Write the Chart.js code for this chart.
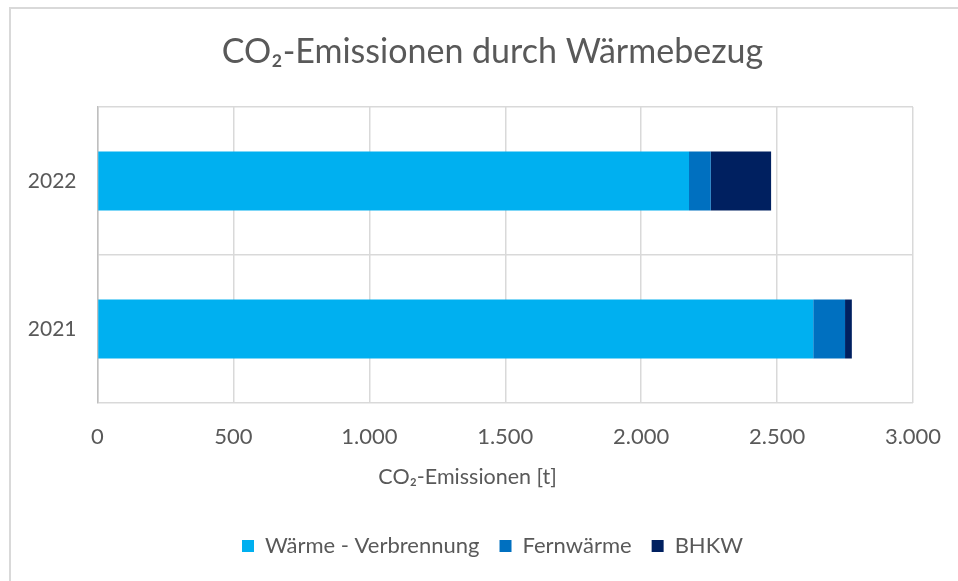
<!DOCTYPE html>
<html>
<head>
<meta charset="utf-8">
<script src="https://cdn.jsdelivr.net/npm/chart.js@4.4.1/dist/chart.umd.min.js"></script>
<style>
  body { margin: 0; background: #fff; }
  #wrap { position: relative; width: 958px; height: 581px; overflow: hidden; }
  #frame { position: absolute; left: 9px; top: 7px; width: 1000px; height: 600px;
           border-left: 2px solid #d9d9d9; border-top: 2px solid #d9d9d9; pointer-events: none; }
</style>
</head>
<body>
<div id="wrap">
  <canvas id="myChart" width="958" height="581"></canvas>
  <div id="frame"></div>
</div>
<script>
// Daten
const jahre = ['2022', '2021'];
const waermeVerbrennung = [2176, 2633];
const fernwaerme = [80, 117];
const bhkw = [222, 25];
const serienNamen = ['Wärme - Verbrennung', 'Fernwärme', 'BHKW'];
const farben = ['#00B0F0', '#0070C0', '#002060'];

const schrift = "Lato, 'Open Sans', sans-serif";
const grau = '#595959';

function tausender(v) {
  return String(v).replace(/\B(?=(\d{3})+(?!\d))/g, '.');
}

const ctx = document.getElementById('myChart').getContext('2d');
const chart = new Chart(ctx, {
  type: 'bar',
  data: {
    labels: jahre,
    datasets: [
      { label: serienNamen[0], data: waermeVerbrennung, backgroundColor: farben[0] },
      { label: serienNamen[1], data: fernwaerme, backgroundColor: farben[1] },
      { label: serienNamen[2], data: bhkw, backgroundColor: farben[2] }
    ]
  },
  options: {
    indexAxis: 'y',
    responsive: false,
    animation: false,
    devicePixelRatio: 1,
    layout: { padding: { left: 27, right: 0, top: 0, bottom: 14 } },
    datasets: { bar: { barPercentage: 0.4, categoryPercentage: 1, borderWidth: 0 } },
    scales: {
      x: {
        stacked: true,
        min: 0,
        max: 3000,
        ticks: {
          stepSize: 500,
          padding: 21,
          color: grau,
          font: { family: schrift, size: 22 },
          callback: v => tausender(v)
        },
        grid: { color: '#d9d9d9', lineWidth: 1.5, drawTicks: false },
        border: { display: false },
        title: {
          display: true,
          // Leerzeichen am Ende schieben den Titel etwas nach links (wie im Original)
          text: 'CO₂-Emissionen [t]\u2002\u2002\u2002\u2002\u2002\u2002\u2002',
          color: grau,
          padding: 25,
          font: { family: schrift, size: 21.5 }
        },
        afterFit: scale => {
          scale.height = 112;
          scale.paddingLeft = 0;
          scale.paddingRight = 0;
        }
      },
      y: {
        stacked: true,
        ticks: {
          padding: 21,
          color: grau,
          font: { family: schrift, size: 21 }
        },
        grid: { color: '#d9d9d9', lineWidth: 1.5, drawTicks: false },
        border: { color: '#bfbfbf', width: 1.5 },
        afterFit: scale => { scale.width = 70.5; }
      },
      // leere Achse rechts, nur als Abstand
      yRand: {
        type: 'category',
        labels: jahre,
        position: 'right',
        grid: { display: false },
        border: { display: false },
        ticks: { display: false },
        afterFit: scale => { scale.width = 45; }
      }
    },
    plugins: {
      title: {
        display: true,
        text: 'CO₂-Emissionen durch Wärmebezug',
        color: grau,
        padding: { top: 31.5, bottom: 34.7 },
        font: { family: schrift, size: 34, weight: 'normal' }
      },
      legend: {
        position: 'bottom',
        labels: {
          boxWidth: 12,
          boxHeight: 12,
          padding: 20,
          color: grau,
          font: { family: schrift, size: 22 }
        }
      },
      tooltip: { enabled: false }
    }
  }
});
</script>
</body>
</html>
